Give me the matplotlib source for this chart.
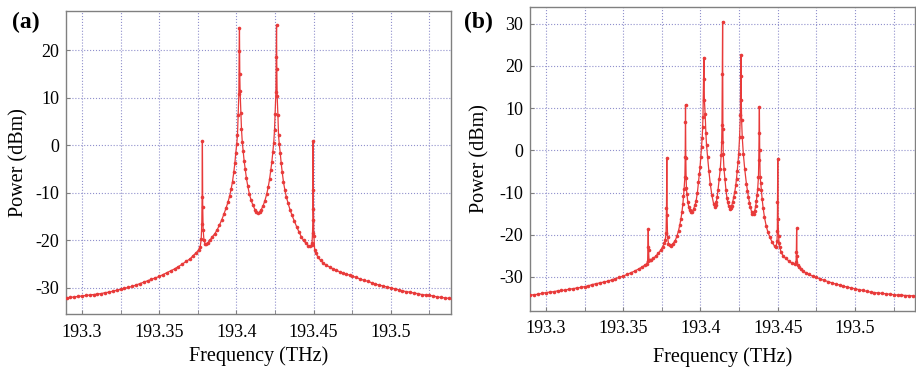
import matplotlib
matplotlib.use('Agg')
import matplotlib.pyplot as plt
from matplotlib.ticker import MultipleLocator, FuncFormatter

# spectrum (a): frequency in THz, power in dBm
freq_a = [193.2875, 193.2900, 193.2925, 193.2950, 193.2975, 193.3000, 193.3025, 193.3050,
          193.3075, 193.3100, 193.3125, 193.3150, 193.3175, 193.3200, 193.3225, 193.3250,
          193.3275, 193.3300, 193.3325, 193.3350, 193.3375, 193.3400, 193.3425, 193.3450,
          193.3475, 193.3500, 193.3525, 193.3550, 193.3575, 193.3600, 193.3625, 193.3650,
          193.3675, 193.3700, 193.3720, 193.3740, 193.3755, 193.3766,
          193.3772, 193.3776, 193.3778, 193.3780, 193.3782, 193.3785, 193.3790, 193.3797, 193.3805,
          193.3815, 193.3830, 193.3845, 193.3860, 193.3875, 193.3890, 193.3905, 193.3920,
          193.3933, 193.3945, 193.3956, 193.3966, 193.3975, 193.3983, 193.3990, 193.3996,
          193.4002, 193.4007, 193.4011, 193.4016, 193.4018, 193.4020, 193.4022, 193.4024,
          193.4029, 193.4033, 193.4038, 193.4044, 193.4050, 193.4057, 193.4065, 193.4074,
          193.4084, 193.4095, 193.4107, 193.4120, 193.4130, 193.4140, 193.4150, 193.4160,
          193.4173, 193.4185, 193.4196, 193.4206, 193.4215, 193.4223, 193.4230, 193.4236,
          193.4242, 193.4247, 193.4251, 193.4256, 193.4258, 193.4260, 193.4262, 193.4264,
          193.4269, 193.4273, 193.4278, 193.4284, 193.4290, 193.4297, 193.4305, 193.4314,
          193.4324, 193.4335, 193.4347, 193.4360, 193.4375, 193.4390, 193.4405, 193.4420,
          193.4435, 193.4450, 193.4465, 193.4478, 193.4487,
          193.4490, 193.4493, 193.4495, 193.4496, 193.4497, 193.4499, 193.4502, 193.4507,
          193.4515, 193.4528, 193.4545, 193.4561, 193.4580, 193.4604, 193.4625, 193.4647,
          193.4670, 193.4690, 193.4710, 193.4733, 193.4750, 193.4775, 193.4800, 193.4825,
          193.4850, 193.4875, 193.4900, 193.4925, 193.4950, 193.4975, 193.5000, 193.5025,
          193.5050, 193.5075, 193.5100, 193.5125, 193.5150, 193.5175, 193.5200, 193.5225,
          193.5250, 193.5275, 193.5300, 193.5325, 193.5350, 193.5375, 193.5400]
power_a = [-32.2, -32.1, -32.0, -31.9, -31.8, -31.7, -31.6, -31.5,
           -31.4, -31.3, -31.2, -31.0, -30.9, -30.7, -30.5, -30.3,
           -30.1, -29.9, -29.7, -29.4, -29.1, -28.8, -28.5, -28.2,
           -27.9, -27.6, -27.2, -26.8, -26.4, -26.0, -25.5, -25.0,
           -24.4, -23.9, -23.2, -22.6, -22.0, -21.3,
           -19.8, -16.5, -10.8, 0.9, -12.9, -17.8, -20.0, -20.7, -20.8,
           -20.5, -19.9, -19.2, -18.6, -17.8, -16.8, -15.7, -14.4,
           -13.2, -12.0, -10.7, -9.2, -7.6, -5.7, -3.8, -1.6,
           0.2, 2.1, 6.3, 10.8, 19.8, 24.7, 15.0, 11.5,
           6.8, 3.5, 0.8, -1.2, -3.2, -5.0, -6.9, -8.6,
           -10.2, -11.5, -12.6, -13.5, -14.0, -14.3, -14.1, -13.6,
           -12.7, -11.6, -10.3, -8.8, -7.1, -5.2, -3.4, -1.4,
           0.6, 3.3, 6.6, 11.3, 18.7, 25.3, 16.0, 10.5,
           6.3, 2.1, 0.2, -1.6, -3.7, -5.7, -7.7, -9.4,
           -10.9, -12.2, -13.5, -14.7, -15.9, -17.1, -18.2, -19.2,
           -20.0, -20.6, -21.1, -21.2, -21.0,
           -20.5, -18.5, -15.7, -9.4, 0.9, -13.3, -19.0, -22.1,
           -22.7, -23.5, -24.2, -24.7, -25.2, -25.6, -26.0, -26.3,
           -26.6, -26.9, -27.1, -27.3, -27.5, -27.8, -28.1, -28.4,
           -28.6, -28.9, -29.2, -29.4, -29.6, -29.8, -30.0, -30.2,
           -30.4, -30.6, -30.8, -30.9, -31.1, -31.2, -31.4, -31.5,
           -31.6, -31.7, -31.9, -32.0, -32.1, -32.2, -32.3]

# spectrum (b)
freq_b = [193.2875, 193.2900, 193.2925, 193.2950, 193.2975, 193.3000, 193.3025, 193.3050,
          193.3075, 193.3100, 193.3125, 193.3150, 193.3175, 193.3200, 193.3225, 193.3250,
          193.3275, 193.3300, 193.3325, 193.3350, 193.3375, 193.3400, 193.3425, 193.3450,
          193.3475, 193.3500, 193.3525, 193.3550, 193.3575, 193.3600, 193.3620, 193.3640,
          193.3652, 193.3658, 193.3660, 193.3662, 193.3664, 193.3667, 193.3672, 193.3682,
          193.3695, 193.3710, 193.3727, 193.3742, 193.3756, 193.3766, 193.3772, 193.3777,
          193.3780, 193.3782, 193.3784, 193.3787, 193.3793, 193.3800, 193.3808, 193.3822,
          193.3836, 193.3848, 193.3858, 193.3866, 193.3873, 193.3880, 193.3886, 193.3890,
          193.3894, 193.3899, 193.3901, 193.3902, 193.3903, 193.3905, 193.3907, 193.3909,
          193.3912, 193.3918, 193.3924, 193.3929, 193.3938, 193.3947, 193.3955, 193.3964,
          193.3972, 193.3980, 193.3987, 193.3993, 193.3997, 193.4002, 193.4007, 193.4011,
          193.4014, 193.4016, 193.4020, 193.4022, 193.4025, 193.4030, 193.4035, 193.4039,
          193.4046, 193.4054, 193.4063, 193.4074, 193.4085, 193.4092, 193.4098, 193.4102,
          193.4108, 193.4113, 193.4121, 193.4128, 193.4134, 193.4137, 193.4139, 193.4141,
          193.4143, 193.4145, 193.4147, 193.4152, 193.4158, 193.4165, 193.4171, 193.4176,
          193.4183, 193.4190, 193.4196, 193.4202, 193.4208, 193.4215, 193.4222, 193.4228,
          193.4233, 193.4238, 193.4243, 193.4247, 193.4253, 193.4258, 193.4260, 193.4262,
          193.4264, 193.4266, 193.4270, 193.4277, 193.4286, 193.4297, 193.4304, 193.4310,
          193.4317, 193.4323, 193.4330, 193.4336, 193.4343, 193.4351, 193.4357, 193.4362,
          193.4366, 193.4370, 193.4375, 193.4377, 193.4379, 193.4381, 193.4383, 193.4386,
          193.4390, 193.4394, 193.4399, 193.4405, 193.4414, 193.4425, 193.4436, 193.4449,
          193.4464, 193.4479, 193.4490, 193.4495, 193.4497, 193.4498, 193.4500, 193.4502,
          193.4505, 193.4508, 193.4513, 193.4522, 193.4535, 193.4550, 193.4572, 193.4593,
          193.4609, 193.4618, 193.4620, 193.4622, 193.4624, 193.4628, 193.4635, 193.4648,
          193.4665, 193.4680, 193.4700, 193.4725, 193.4750, 193.4775, 193.4800, 193.4825,
          193.4850, 193.4875, 193.4900, 193.4925, 193.4950, 193.4975, 193.5000, 193.5025,
          193.5050, 193.5075, 193.5100, 193.5125, 193.5150, 193.5175, 193.5200, 193.5225,
          193.5250, 193.5275, 193.5300, 193.5325, 193.5350, 193.5375, 193.5400]
power_b = [-34.4, -34.3, -34.2, -34.1, -33.9, -33.7, -33.6, -33.5,
           -33.3, -33.2, -33.1, -32.9, -32.8, -32.6, -32.5, -32.3,
           -32.1, -31.8, -31.6, -31.4, -31.2, -31.0, -30.7, -30.4,
           -30.1, -29.8, -29.4, -29.0, -28.6, -28.1, -27.7, -27.2,
           -26.9, -26.2, -23.0, -18.7, -23.5, -26.0, -26.1, -25.9,
           -25.6, -25.1, -24.4, -23.7, -22.8, -21.9, -21.2, -19.7,
           -13.6, -1.8, -15.3, -20.5, -22.1, -22.5, -22.6, -22.1,
           -21.4, -20.3, -19.0, -17.7, -16.3, -14.6, -12.7, -10.9,
           -9.1, -6.3, -1.6, 6.6, 10.8, -1.8, -6.5, -9.0,
           -10.3, -12.3, -13.4, -14.1, -14.7, -14.5, -13.9, -13.0,
           -11.9, -10.0, -7.5, -5.5, -4.0, -1.5, 0.8, 3.0,
           5.5, 7.9, 17.0, 22.0, 12.0, 8.7, 4.0, 1.2,
           -1.6, -4.8, -7.9, -10.7, -12.7, -13.5, -13.0, -12.3,
           -11.0, -9.5, -6.7, -4.4, -1.0, 2.0, 6.0, 18.0,
           30.5, 5.0, -0.8, -4.4, -6.7, -9.5, -11.2, -12.3,
           -13.3, -13.8, -13.6, -13.1, -12.3, -11.1, -9.8, -8.3,
           -6.7, -4.8, -2.7, -0.8, 3.2, 8.3, 17.5, 22.6,
           12.0, 7.1, 3.2, -0.8, -4.4, -7.9, -9.6, -11.1,
           -12.4, -13.5, -14.5, -15.2, -15.0, -14.3, -13.2, -11.9,
           -10.6, -9.1, -6.3, -2.4, 4.0, 10.3, 0.0, -6.3,
           -7.8, -9.5, -11.6, -13.6, -15.9, -17.9, -19.4, -20.6,
           -21.8, -22.7, -22.8, -21.5, -19.0, -12.3, -2.0, -16.3,
           -20.2, -22.0, -23.0, -24.2, -25.0, -25.6, -26.2, -26.8,
           -27.0, -26.5, -24.2, -18.5, -25.0, -27.2, -27.6, -28.2,
           -28.7, -29.0, -29.4, -29.8, -30.1, -30.5, -30.8, -31.1,
           -31.4, -31.7, -31.9, -32.2, -32.4, -32.6, -32.8, -33.0,
           -33.2, -33.4, -33.6, -33.7, -33.8, -33.9, -34.0, -34.1,
           -34.2, -34.3, -34.3, -34.4, -34.4, -34.5, -34.5]

plt.rcParams['font.family'] = ['Liberation Serif', 'DejaVu Serif']
plt.rcParams['axes.unicode_minus'] = False

red = '#e83a3a'
grid_col = '#9090cc'

fig = plt.figure(figsize=(9.16, 3.68), dpi=100)
ax_a = fig.add_axes([0.0721, 0.1467, 0.4203, 0.8234])
ax_b = fig.add_axes([0.5786, 0.1557, 0.4207, 0.8245])


def setup(ax, freq, power, ylim, xlab_y, ylab_x):
    ax.plot(freq, power, color=red, lw=0.9, marker='o', ms=2.6, mew=0, zorder=3)
    ax.set_xlim(193.2897, 193.5390)
    ax.set_ylim(*ylim)
    ax.xaxis.set_major_locator(MultipleLocator(0.05))
    ax.xaxis.set_minor_locator(MultipleLocator(0.025))
    ax.yaxis.set_major_locator(MultipleLocator(10))
    ax.xaxis.set_major_formatter(FuncFormatter(lambda v, p: '%g' % round(v, 3)))
    ax.yaxis.set_major_formatter(FuncFormatter(lambda v, p: '%d' % round(v)))
    ax.grid(True, which='both', axis='x', ls=':', lw=0.8, color=grid_col)
    ax.grid(True, which='major', axis='y', ls=':', lw=0.8, color=grid_col)
    ax.tick_params(which='both', direction='in', length=3, color='#808080',
                   labelsize=13)
    ax.tick_params(axis='x', pad=7)
    ax.tick_params(axis='y', pad=5)
    for s in ax.spines.values():
        s.set_color('#808080')
        s.set_linewidth(1.0)
    ax.set_xlabel('Frequency (THz)', fontsize=14.5)
    ax.set_ylabel('Power (dBm)', fontsize=14.5)
    ax.xaxis.set_label_coords(0.5, xlab_y)
    ax.yaxis.set_label_coords(ylab_x, 0.5)


setup(ax_a, freq_a, power_a, (-35.5, 28.3), -0.108, -0.097)
setup(ax_b, freq_b, power_b, (-38.0, 33.9), -0.12, -0.105)

fig.text(12 / 916, 1 - 12 / 368, '(a)', fontsize=17, fontweight='bold', va='top')
fig.text(464 / 916, 1 - 12 / 368, '(b)', fontsize=17, fontweight='bold', va='top')

plt.savefig('out.png', dpi=100)
